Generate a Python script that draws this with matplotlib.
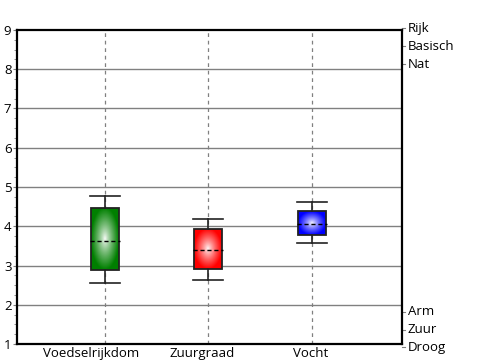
import matplotlib
matplotlib.use("Agg")
import matplotlib.pyplot as plt
import numpy as np
from matplotlib.patches import Rectangle
from matplotlib.ticker import MultipleLocator
from matplotlib.transforms import blended_transform_factory, ScaledTranslation

plt.rcParams['font.family'] = ['Open Sans', 'DejaVu Sans']

categories = ["Voedselrijkdom", "Zuurgraad", "Vocht"]
whisker_low = [2.55, 2.62, 3.57]
box_low = [2.89, 2.90, 3.77]
median = [3.62, 3.40, 4.05]
box_high = [4.47, 3.93, 4.38]
whisker_high = [4.78, 4.19, 4.62]
colors = [(0.0, 0.5, 0.0), (1.0, 0.0, 0.0), (0.0, 0.0, 1.0)]
side_labels = ["Rijk", "Basisch", "Nat", "Arm", "Zuur", "Droog"]
side_values = [9.05, 8.59, 8.13, 1.82, 1.36, 0.92]

fig = plt.figure(figsize=(5, 3.6), dpi=100)
ax = fig.add_axes([0.034, 0.0444, 0.77, 0.8723])

positions = np.arange(1, len(categories) + 1)
box_w = 0.27
cap_w = 0.29

ax.set_xlim(0.15, 3.87)
ax.set_ylim(1, 9)

for y in range(2, 9):
    ax.axhline(y, color="#808080", lw=1, zorder=1)
for x in positions:
    ax.axvline(x, color="#808080", lw=0.9, ls=(0, (3, 3)), zorder=1)

# radial gradient image, white centre
n = 80
gx, gy = np.meshgrid(np.linspace(-1, 1, n), np.linspace(-1, 1, n))
t = np.clip(np.sqrt(gx ** 2 + gy ** 2), 0, 1) ** 0.8

for x, lo, hi, wlo, whi, med, c in zip(positions, box_low, box_high,
                                         whisker_low, whisker_high, median, colors):
    img = np.zeros((n, n, 3))
    for k in range(3):
        img[..., k] = (1 - t) * 1.0 + t * c[k]
    ext = (x - box_w / 2, x + box_w / 2, lo, hi)
    im = ax.imshow(img, extent=ext, aspect="auto", zorder=3, interpolation="bilinear")
    rect = Rectangle((x - box_w / 2, lo), box_w, hi - lo, facecolor="none",
                     edgecolor="#222222", lw=1.3, zorder=4)
    ax.add_patch(rect)
    im.set_clip_path(rect)
    ax.plot([x, x], [hi, whi], color="#222222", lw=1.2, zorder=3)
    ax.plot([x, x], [wlo, lo], color="#222222", lw=1.2, zorder=3)
    ax.plot([x - cap_w / 2, x + cap_w / 2], [whi, whi], color="#222222", lw=1.2, zorder=3)
    ax.plot([x - cap_w / 2, x + cap_w / 2], [wlo, wlo], color="#222222", lw=1.2, zorder=3)
    ax.plot([x - cap_w / 2, x + cap_w / 2], [med, med], color="black", lw=1.0,
            ls=(0, (3, 2)), zorder=5)

ax.set_xticks(positions)
ax.set_xticklabels(categories, fontsize=9.5)
ax.tick_params(axis="x", length=0, pad=2)
# labels sit a little left of the box centres in the original
for lab, dx in zip(ax.get_xticklabels(), [-14, -6, -1]):
    lab.set_transform(lab.get_transform() + ScaledTranslation(dx / 100, 0, fig.dpi_scale_trans))
ax.set_yticks(range(1, 10))
ax.yaxis.set_minor_locator(MultipleLocator(0.25))
ax.tick_params(axis="y", which="major", length=3, color="#808080", labelsize=9.5, pad=1)
ax.tick_params(axis="y", which="minor", length=2, color="#808080")
for s in ax.spines.values():
    s.set_linewidth(1.6)

trans = blended_transform_factory(ax.transAxes, ax.transData)
for lab, v in zip(side_labels, side_values):
    ax.plot([1.0, 1.008], [v, v], color="#808080", lw=0.8, transform=trans, clip_on=False)
    ax.text(1.015, v, lab, transform=trans, fontsize=9.5, va="center", ha="left")

fig.savefig("out.png", dpi=100)
